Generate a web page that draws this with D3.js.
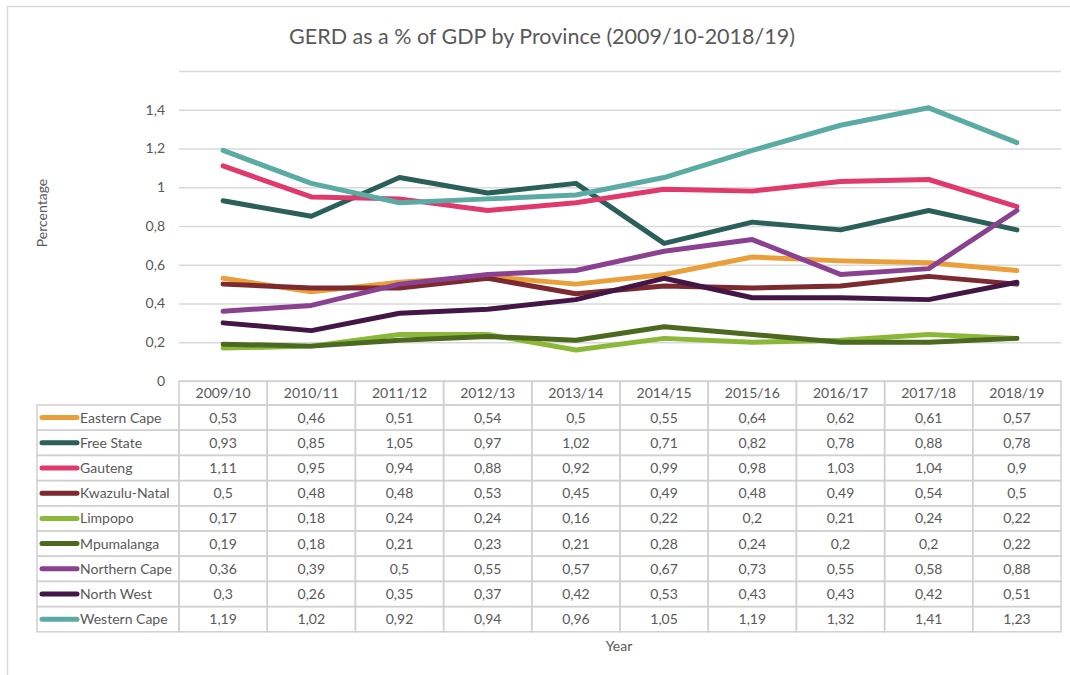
<!DOCTYPE html>
<html>
<head>
<meta charset="utf-8">
<script src="https://cdn.jsdelivr.net/npm/d3@7"></script>
<style>
  body { margin: 0; background: #fff; }
  text { font-family: Lato, "Open Sans", sans-serif; fill: #595959; }
</style>
</head>
<body>
<div id="chart"></div>
<script>
// Years along the x axis
var years = ["2009/10", "2010/11", "2011/12", "2012/13", "2013/14", "2014/15", "2015/16", "2016/17", "2017/18", "2018/19"];

// Provinces, in legend/table order
var provinces = ["Eastern Cape", "Free State", "Gauteng", "Kwazulu-Natal", "Limpopo", "Mpumalanga", "Northern Cape", "North West", "Western Cape"];

// GERD as % of GDP, one array per province
var easternCape  = [0.53, 0.46, 0.51, 0.54, 0.5, 0.55, 0.64, 0.62, 0.61, 0.57];
var freeState    = [0.93, 0.85, 1.05, 0.97, 1.02, 0.71, 0.82, 0.78, 0.88, 0.78];
var gauteng      = [1.11, 0.95, 0.94, 0.88, 0.92, 0.99, 0.98, 1.03, 1.04, 0.9];
var kwazuluNatal = [0.5, 0.48, 0.48, 0.53, 0.45, 0.49, 0.48, 0.49, 0.54, 0.5];
var limpopo      = [0.17, 0.18, 0.24, 0.24, 0.16, 0.22, 0.2, 0.21, 0.24, 0.22];
var mpumalanga   = [0.19, 0.18, 0.21, 0.23, 0.21, 0.28, 0.24, 0.2, 0.2, 0.22];
var northernCape = [0.36, 0.39, 0.5, 0.55, 0.57, 0.67, 0.73, 0.55, 0.58, 0.88];
var northWest    = [0.3, 0.26, 0.35, 0.37, 0.42, 0.53, 0.43, 0.43, 0.42, 0.51];
var westernCape  = [1.19, 1.02, 0.92, 0.94, 0.96, 1.05, 1.19, 1.32, 1.41, 1.23];

var yTicks = [0, 0.2, 0.4, 0.6, 0.8, 1, 1.2, 1.4, 1.6];

var colors = ["#e9a03b", "#2b5f5a", "#e03a6c", "#7c2a30", "#8cb83a", "#4c6a1f", "#8a4190", "#421645", "#5aaba4"];

var allValues = [easternCape, freeState, gauteng, kwazuluNatal, limpopo, mpumalanga, northernCape, northWest, westernCape];
var series = provinces.map(function(p, i) {
    return { name: p, values: allValues[i], color: colors[i] };
});

var width = 1070, height = 675;
var plotLeft = 179, plotRight = 1061, plotTop = 71, plotBottom = 381;
var rowH = 25.2, headH = 24;
var fontSize = "14px";

// comma decimal like the original
function fmt(v) { return String(+v.toFixed(2)).replace(".", ","); }

var svg = d3.select("#chart").append("svg")
    .attr("width", width)
    .attr("height", height);

// outer chart border (runs off the right/bottom of the picture)
svg.append("rect")
    .attr("x", 7.5).attr("y", 6.5)
    .attr("width", 1080).attr("height", 690)
    .attr("fill", "none")
    .attr("stroke", "#d9d9d9")
    .attr("stroke-width", 1.5);

var x = d3.scaleBand().domain(years).range([plotLeft, plotRight]).padding(0);
var y = d3.scaleLinear().domain([0, 1.6]).range([plotBottom, plotTop]);

// gridlines + y labels
var yAxis = d3.axisLeft(y)
    .tickValues(yTicks)
    .tickSize(-(plotRight - plotLeft))
    .tickPadding(14)
    .tickFormat(function(d) { return d === 1.6 ? "" : fmt(d); });

var gy = svg.append("g")
    .attr("transform", "translate(" + plotLeft + ",0)")
    .call(yAxis);
gy.select(".domain").remove();
gy.selectAll(".tick line").attr("stroke", "#d9d9d9").attr("stroke-width", 1.5);
gy.selectAll(".tick text")
    .attr("font-size", fontSize)
    .attr("font-family", "Lato, sans-serif")
    .attr("fill", "#595959");

// lines
var line = d3.line()
    .x(function(d, i) { return x(years[i]) + x.bandwidth() / 2; })
    .y(function(d) { return y(d); });

svg.append("g").selectAll("path")
    .data(series)
    .enter().append("path")
    .attr("d", function(d) { return line(d.values); })
    .attr("fill", "none")
    .attr("stroke", function(d) { return d.color; })
    .attr("stroke-width", 5)
    .attr("stroke-linecap", "round")
    .attr("stroke-linejoin", "round");

// data table
var tableLeft = 37;
var tbl = svg.append("g");
var gridColor = "#d0d0d0";

// header cells
tbl.selectAll("rect.head")
    .data(years)
    .enter().append("rect")
    .attr("class", "head")
    .attr("x", function(d) { return x(d); })
    .attr("y", plotBottom)
    .attr("width", x.bandwidth())
    .attr("height", headH)
    .attr("fill", "none")
    .attr("stroke", gridColor)
    .attr("stroke-width", 1.5);

tbl.selectAll("text.head")
    .data(years)
    .enter().append("text")
    .attr("class", "head")
    .attr("x", function(d) { return x(d) + x.bandwidth() / 2; })
    .attr("y", plotBottom + headH / 2)
    .attr("dy", "0.35em")
    .attr("text-anchor", "middle")
    .attr("font-size", fontSize)
    .text(function(d) { return d; });

var rows = tbl.selectAll("g.row")
    .data(series)
    .enter().append("g")
    .attr("class", "row")
    .attr("transform", function(d, i) { return "translate(0," + (plotBottom + headH + i * rowH) + ")"; });

// legend cell
rows.append("rect")
    .attr("x", tableLeft).attr("y", 0)
    .attr("width", plotLeft - tableLeft).attr("height", rowH)
    .attr("fill", "none")
    .attr("stroke", gridColor)
    .attr("stroke-width", 1.5);

rows.append("line")
    .attr("x1", tableLeft + 5).attr("x2", tableLeft + 40)
    .attr("y1", rowH / 2).attr("y2", rowH / 2)
    .attr("stroke", function(d) { return d.color; })
    .attr("stroke-width", 5)
    .attr("stroke-linecap", "round");

rows.append("text")
    .attr("x", tableLeft + 43)
    .attr("y", rowH / 2)
    .attr("dy", "0.35em")
    .attr("font-size", fontSize)
    .text(function(d) { return d.name; });

// value cells
rows.selectAll("rect.val")
    .data(function(d) { return d.values; })
    .enter().append("rect")
    .attr("class", "val")
    .attr("x", function(d, i) { return x(years[i]); })
    .attr("y", 0)
    .attr("width", x.bandwidth())
    .attr("height", rowH)
    .attr("fill", "none")
    .attr("stroke", gridColor)
    .attr("stroke-width", 1.5);

rows.selectAll("text.val")
    .data(function(d) { return d.values; })
    .enter().append("text")
    .attr("class", "val")
    .attr("x", function(d, i) { return x(years[i]) + x.bandwidth() / 2; })
    .attr("y", rowH / 2)
    .attr("dy", "0.35em")
    .attr("text-anchor", "middle")
    .attr("font-size", fontSize)
    .text(function(d) { return fmt(d); });

// title
svg.append("text")
    .attr("x", 542)
    .attr("y", 44)
    .attr("text-anchor", "middle")
    .attr("font-size", "21.5px")
    .text("GERD as a % of GDP by Province (2009/10-2018/19)");

// axis titles
svg.append("text")
    .attr("transform", "translate(47,213) rotate(-90)")
    .attr("text-anchor", "middle")
    .attr("font-size", fontSize)
    .text("Percentage");

svg.append("text")
    .attr("x", 619)
    .attr("y", 651)
    .attr("text-anchor", "middle")
    .attr("font-size", fontSize)
    .text("Year");
</script>
</body>
</html>
